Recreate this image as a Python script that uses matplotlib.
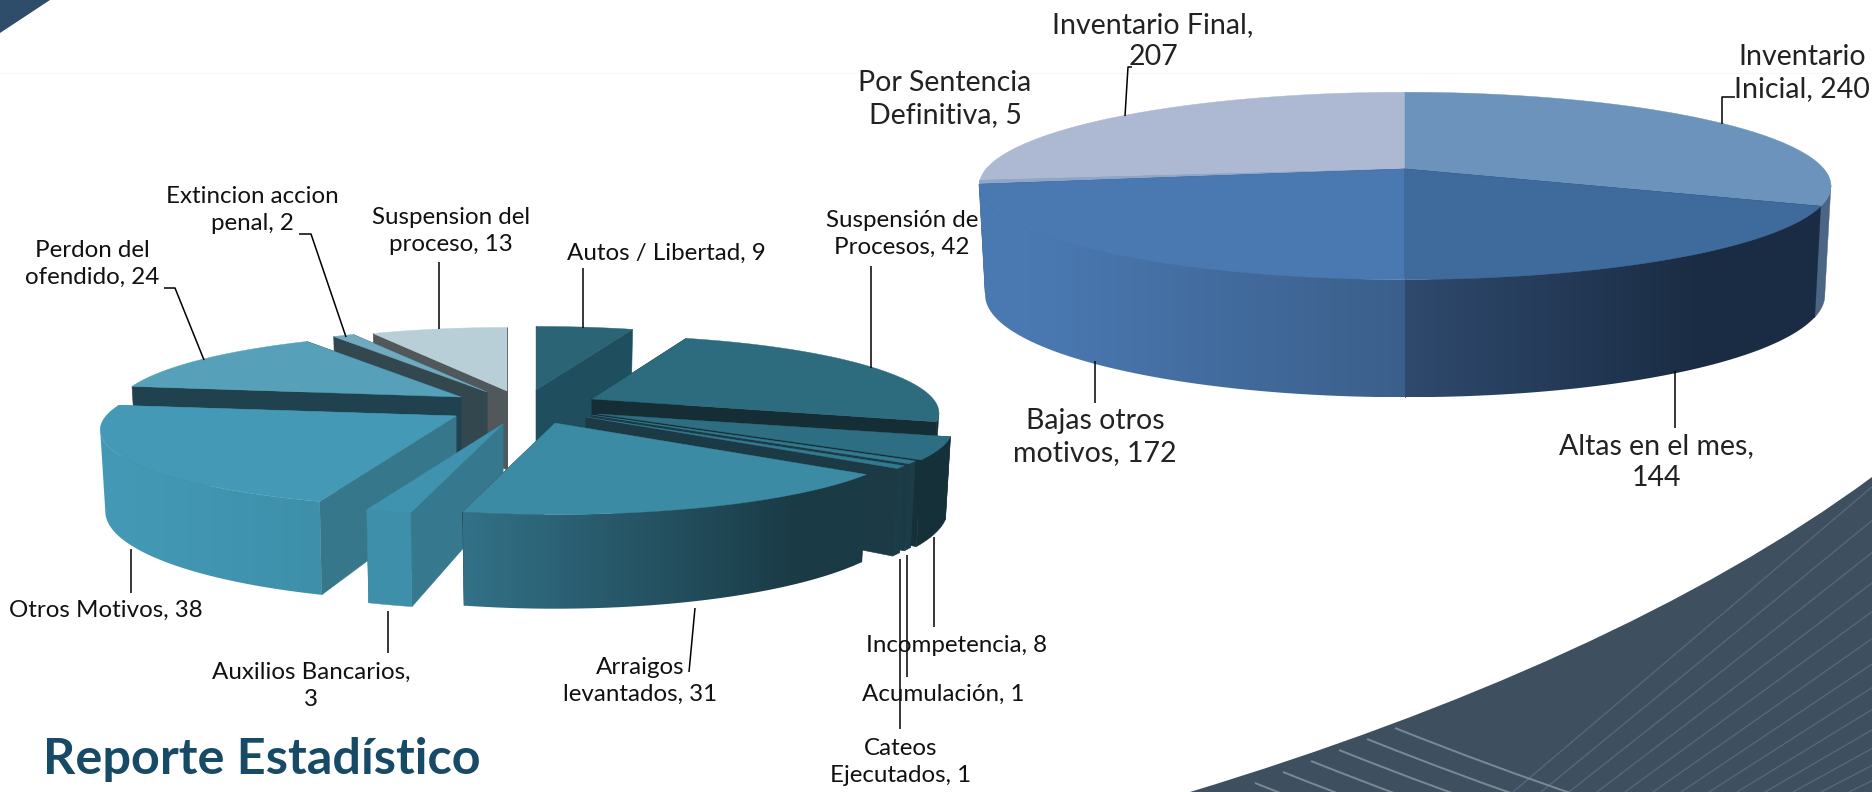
"""Reporte Estadistico: two perspective 3D pies drawn in pixel space."""

import itertools

import matplotlib
matplotlib.use("Agg")
import matplotlib.pyplot as plt
import numpy as np
from matplotlib.colors import to_rgb
from matplotlib.patches import PathPatch, Polygon
from matplotlib.path import Path

# --- data ---
LEFT_TEMPLATES = ["Autos / Libertad, {}", "Suspensión de\nProcesos, {}", "Incompetencia, {}",
                  "Acumulación, {}", "Cateos\nEjecutados, {}", "Arraigos\nlevantados, {}",
                  "Auxilios Bancarios,\n{}", "Otros Motivos, {}", "Perdon del\nofendido, {}",
                  "Extincion accion\npenal, {}", "Suspension del\nproceso, {}"]
LEFT_VALUES = [9, 42, 8, 1, 1, 31, 3, 38, 24, 2, 13]

RIGHT_TEMPLATES = ["Inventario\nInicial, {}", "Altas en el mes,\n{}", "Bajas otros\nmotivos, {}",
                   "Por Sentencia\nDefinitiva, {}", "Inventario Final,\n{}"]
RIGHT_VALUES = [240, 144, 172, 5, 207]

TITLE = "Reporte Estadístico"

# --- layout (pixels of the 1872x792 picture) ---
K = 0.18
LEFT_GEOM = dict(rx=(350, 345), ry=(75, 87.5), dy=79)
RIGHT_GEOM = dict(rx=(419, 413), ry=(90.6, 99), dy=107.5)

LEFT_APEX = [(536, 390), (592, 399), (597, 414), (591, 415), (586, 417), (555, 423),
             (503, 424), (456, 416), (461, 397), (487, 392), (507, 391)]
LEFT_SCALE = [1, 0.975, 1, 1, 1, 1, 1, 1, 0.975, 0.97, 0.97]
RIGHT_APEX = (1405, 169)

LEFT_TOP = ["#2A6475", "#2D6B7E", "#2E6E82", "#33798F", "#33798F", "#3C8BA5",
            "#3F93AE", "#449AB6", "#56A0BA", "#6FAABF", "#B8CFD8"]
LEFT_CUT = ["#1F4E5E", "#152E36", "#163039", "#1B3A46", "#1B3A46", "#1B3A46",
            "#36788D", "#36778C", "#20424F", "#33474F", "#50585C"]
LEFT_WALL = [[(0, "#1F4E5E")], [(0, "#152E36")], [(0, "#163039")], [(0, "#1C3C48")],
             [(0, "#1C3C48")], [(466, "#327187"), (800, "#1A3A45")], [(0, "#3E90AA")],
             [(100, "#449AB6"), (320, "#3E90AA")], [(0, "#3E90AA")], [(0, "#33474F")], [(0, "#50585C")]]
# back slices first, so nearer ones paint over them
LEFT_ORDER = [0, 10, 9, 8, 1, 2, 3, 4, 7, 6, 5]

RIGHT_TOP = ["#6C93BC", "#3F6A9C", "#4A79B2", "#8FA6C8", "#ADB9D2"]
RIGHT_CUT = ["#4C6585", "#2F4A6E", "#3B5F8B", "#8FA6C8", "#ADB9D2"]
RIGHT_WALL = [[(0, "#4C6585")], [(1405, "#2F4A6E"), (1700, "#1A2C43")],
              [(1030, "#4A79B2"), (1405, "#3B5F8B")], [(0, "#8FA6C8")], [(0, "#ADB9D2")]]
RIGHT_ORDER = [4, 3, 0, 2, 1]

LEFT_TEXT = [(666, 253), (902, 234), (957, 645), (943, 694), (901, 762), (640, 681),
             (311, 686), (106, 610), (92, 264), (252, 210), (451, 231)]
RIGHT_TEXT = [(1802, 73), (1656, 462), (1095, 437), (945, 99), (1153, 41)]

LEADERS = [
    [(583, 328), (583, 268)], [(871, 368), (871, 266)], [(934, 537), (934, 627)],
    [(907, 555), (907, 677)], [(900, 559), (900, 729)], [(695, 608), (689, 672)],
    [(388, 611), (388, 653)], [(131, 549), (131, 593)], [(204, 360), (175, 288), (164, 288)],
    [(346, 337), (311, 234), (299, 234)], [(439, 329), (439, 262)],
    [(1722, 124), (1722, 97), (1735, 97)], [(1675, 371), (1675, 428)],
    [(1095, 361), (1095, 403)], [(1125, 116), (1128, 67), (1132, 67)],
]

# every pie face gets the next zorder, images and patches alike
PAINT = itertools.count(1000)


def next_z():
    return next(PAINT) / 1000


def project(apex, geom, theta, z=0.0, scale=1.0):
    """theta is clockwise degrees from 12 o'clock, z is 0 on top and 1 at the bottom."""
    a = np.radians(90 - np.asarray(theta, dtype=float))
    rx = (geom["rx"][0] + (geom["rx"][1] - geom["rx"][0]) * z) * scale
    ry = geom["ry"][0] + (geom["ry"][1] - geom["ry"][0]) * z
    denom = 1 + K * np.sin(a)
    return (apex[0] + rx * np.cos(a) / denom,
            apex[1] + geom["dy"] * z - ry * np.sin(a) / denom)


def draw_wall(ax, xt, yt, xb, yb, stops):
    poly = np.vstack([np.column_stack([xt, yt]), np.column_stack([xb, yb])[::-1]])
    if len(stops) == 1:
        ax.add_patch(Polygon(poly, fc=stops[0][1], ec=stops[0][1], lw=0.3, zorder=next_z()))
        return
    x0, x1 = poly[:, 0].min(), poly[:, 0].max()
    xs = np.linspace(x0, x1, 256)
    rgb = np.array([to_rgb(s[1]) for s in stops])
    grad = np.column_stack([np.interp(xs, [s[0] for s in stops], rgb[:, i]) for i in range(3)])
    im = ax.imshow(grad[np.newaxis, :, :], extent=(x0, x1, poly[:, 1].max(), poly[:, 1].min()),
                   aspect="auto", interpolation="bilinear", zorder=next_z())
    clip = Polygon(poly, transform=ax.transData, fc="none", ec="none")
    ax.add_patch(clip)
    im.set_clip_path(clip)


def draw_slice(ax, apex, geom, t0, t1, top, cut, wall, scale=1.0):
    for t in (t0, t1):
        x0, y0 = project(apex, geom, t, 0, scale)
        x1, y1 = project(apex, geom, t, 1, scale)
        quad = [apex, (x0, y0), (x1, y1), (apex[0], apex[1] + geom["dy"])]
        ax.add_patch(Polygon(quad, fc=cut, ec=cut, lw=0.4, zorder=next_z()))

    th = np.linspace(t0, t1, max(8, int((t1 - t0) * 2)))
    xt, yt = project(apex, geom, th, 0, scale)

    # outer wall only where it faces the viewer
    vis = np.sin(np.radians(90 - th)) < -K + 0.01
    if vis.sum() >= 2:
        xa, ya = project(apex, geom, th[vis], 0, scale)
        xb, yb = project(apex, geom, th[vis], 1, scale)
        draw_wall(ax, xa, ya, xb, yb, wall)

    ax.add_patch(Polygon(np.vstack([[apex], np.column_stack([xt, yt])]), fc=top, ec=top, lw=0.3,
                         zorder=next_z()))


def draw_pie(ax, values, apexes, geom, tops, cuts, walls, order, scales):
    edges = np.concatenate([[0], np.cumsum(values)]) / np.sum(values) * 360
    for i in order:
        draw_slice(ax, apexes[i], geom, edges[i], edges[i + 1], tops[i], cuts[i], walls[i], scales[i])


def draw_background(ax):
    ax.plot([0, 1872], [73, 73], color="#F8F8F8", lw=1, zorder=0)
    ax.add_patch(Polygon([(0, 0), (50, 0), (0, 33)], fc="#2E4D6B", ec="none", zorder=0))

    # bottom right swoosh
    outline = Path([(1190, 792), (1460, 710), (1700, 604), (1872, 477), (1872, 792), (1190, 792)],
                   [Path.MOVETO, Path.CURVE4, Path.CURVE4, Path.CURVE4, Path.LINETO, Path.CLOSEPOLY])
    body = PathPatch(outline, fc="#3E5060", ec="none", zorder=0)
    ax.add_patch(body)

    # thin strands fanning up to the right
    for n in range(14):
        x0 = 1513 + 28 * n
        m = 0.85 - 0.03 * n
        q = Path([(x0, 792), (x0 + 400, 792 - 400 * m)], [Path.MOVETO, Path.LINETO])
        line = PathPatch(q, fc="none", ec="#566878", lw=1.0, zorder=0.1)
        ax.add_patch(line)
        line.set_clip_path(body)
    # lighter strands running down to the right
    for k in range(7):
        sx, sy = 1395 - 28 * k, 728 + 11 * k
        q = Path([(sx, sy), (sx + 95, sy + 38), (sx + 190, sy + 70)],
                 [Path.MOVETO, Path.CURVE3, Path.CURVE3])
        line = PathPatch(q, fc="none", ec="#7C8995", lw=1.4, zorder=0.2)
        ax.add_patch(line)
        line.set_clip_path(body)


fig = plt.figure(figsize=(18.72, 7.92), dpi=100, facecolor="white")
ax = fig.add_axes([0, 0, 1, 1])

draw_background(ax)
draw_pie(ax, RIGHT_VALUES, [RIGHT_APEX] * len(RIGHT_VALUES), RIGHT_GEOM,
         RIGHT_TOP, RIGHT_CUT, RIGHT_WALL, RIGHT_ORDER, [1] * len(RIGHT_VALUES))
draw_pie(ax, LEFT_VALUES, LEFT_APEX, LEFT_GEOM, LEFT_TOP, LEFT_CUT, LEFT_WALL, LEFT_ORDER, LEFT_SCALE)

for line in LEADERS:
    pts = np.array(line)
    ax.plot(pts[:, 0], pts[:, 1], color="black", lw=1.1, solid_capstyle="butt", zorder=5)

for tpl, val, (x, y) in zip(LEFT_TEMPLATES, LEFT_VALUES, LEFT_TEXT):
    ax.text(x, y, tpl.format(val), ha="center", va="center", fontsize=17.4, family="Lato",
            color="#111111", linespacing=1.33, zorder=6)
for tpl, val, (x, y) in zip(RIGHT_TEMPLATES, RIGHT_VALUES, RIGHT_TEXT):
    ax.text(x, y, tpl.format(val), ha="center", va="center", fontsize=20.5, family="Lato",
            color="#222222", linespacing=1.25, zorder=6)

ax.text(43, 759, TITLE, ha="left", va="center", fontsize=36.3, family="Lato", weight="bold",
        color="#174A66", zorder=6)

ax.set_xlim(0, 1872)
ax.set_ylim(792, 0)
ax.axis("off")

fig.savefig("out.png", dpi=100)
